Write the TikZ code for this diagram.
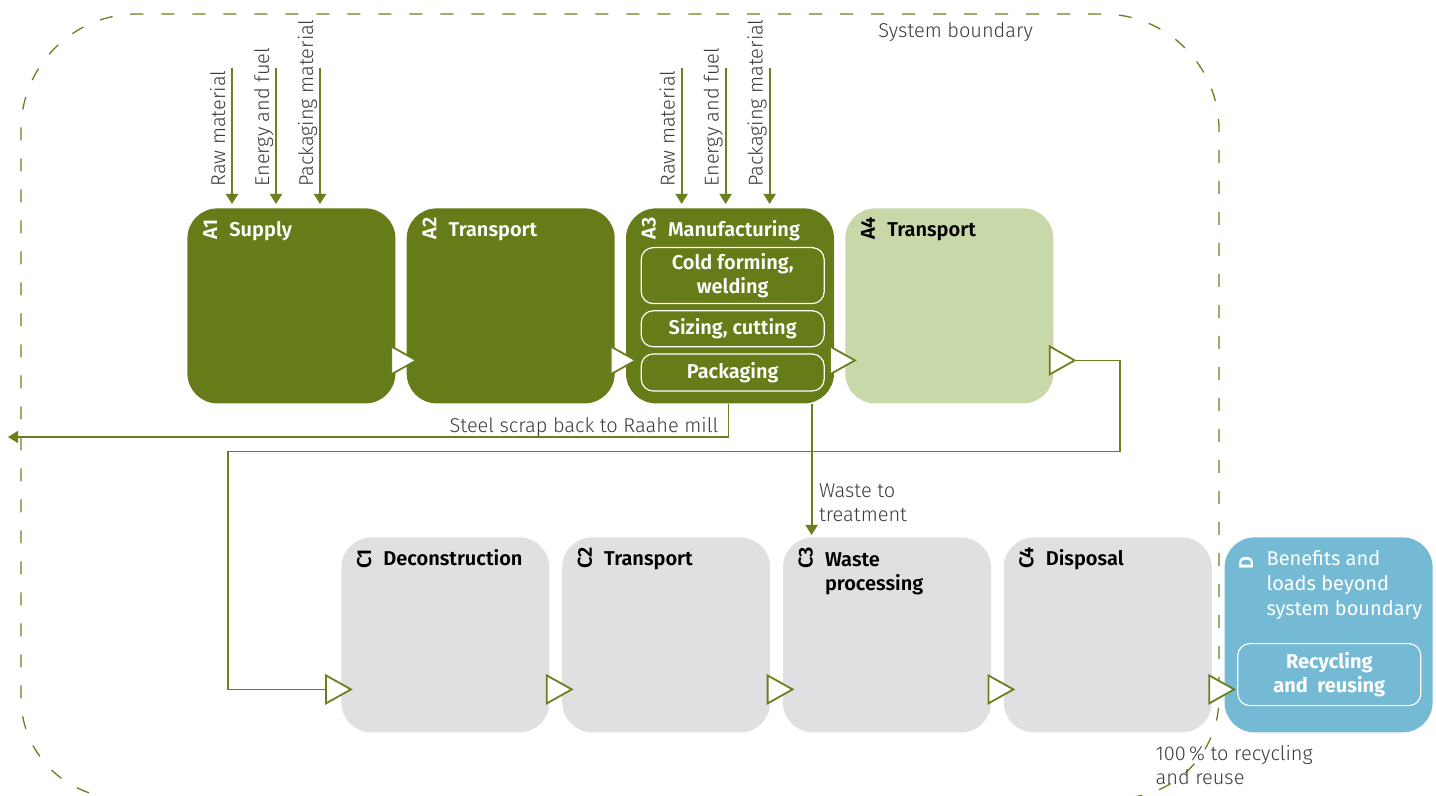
\documentclass[tikz,border=0pt]{standalone}
\usepackage{fontspec}
\setmainfont{Fira Sans}
\newfontfamily\lightfont{Fira Sans Light}
\newfontfamily\semifont{Fira Sans SemiBold}
\usetikzlibrary{positioning,calc,arrows.meta}

\definecolor{darkgreen}{HTML}{667C18}
\definecolor{palegreen}{HTML}{C9D8A8}
\definecolor{palegrey}{HTML}{E0E0E2}
\definecolor{skyblue}{HTML}{74BAD4}
\definecolor{flowgreen}{HTML}{6A801E}
\definecolor{inkgrey}{HTML}{3A3A3A}

\tikzset{
  phase/.style={rounded corners=15pt, minimum width=104pt, minimum height=97.5pt, inner sep=0pt, anchor=north west},
  sub/.style={draw=white, line width=0.6pt, rounded corners=6pt, minimum width=91.5pt, inner sep=0pt,
    anchor=north west, text=white, align=center, font=\semifont\fontsize{10}{12}\selectfont},
  title/.style={anchor=base west, inner sep=0pt, align=left, font=\semifont\fontsize{10}{12.5}\selectfont},
  code/.style={rotate=90, anchor=base west, inner sep=0pt, font=\semifont\fontsize{10}{12}\selectfont},
  note/.style={inner sep=0pt, text=inkgrey, align=left, font=\lightfont\fontsize{10}{12}\selectfont},
  feed/.style={draw=flowgreen, line width=1pt, -{Triangle[width=6pt,length=5pt]}},
  flow/.style={draw=flowgreen, line width=0.8pt},
  tri/.style={draw=flowgreen, fill=white, line width=0.9pt, line join=miter},
  boundary/.style={draw=flowgreen, line width=0.65pt, dash pattern=on 6.5pt off 9pt},
}
\newcommand\opentri[1]{\draw[tri] #1 -- ++(-25,-14) -- ++(0,28) -- cycle;}

\begin{document}
\begin{tikzpicture}[x=0.5pt,y=-0.5pt]
  \useasboundingbox (0,0) rectangle (1436,796);

  % system boundary
  \draw[boundary] (600,14) [rounded corners=58pt] -- (1219,14) -- (1219,500)
    [rounded corners=50pt] -- (1219,798) -- (21,798) -- (21,500)
    [rounded corners=58pt] -- (21,14) -- cycle;
  \node[note, anchor=base west] (sysb) at (878,38) {System boundary};

  % product stage
  \node[phase, fill=darkgreen] (A1) at (187,208) {};
  \node[phase, fill=darkgreen, right=5.25pt of A1] (A2) {};
  \node[phase, fill=darkgreen, right=5.25pt of A2] (A3) {};
  \node[phase, fill=palegreen, right=5.25pt of A3] (A4) {};

  % end of life stage
  \node[phase, fill=palegrey] (C1) at (341,537) {};
  \node[phase, fill=palegrey, right=6pt of C1] (C2) {};
  \node[phase, fill=palegrey, right=6pt of C2] (C3) {};
  \node[phase, fill=palegrey, right=6pt of C3] (C4) {};
  \node[phase, fill=skyblue, right=6pt of C4] (D) {};

  % base of the last line is used, so a second line moves the node down
  \foreach \b/\t/\c/\d in {A1/Supply/white/0, A2/Transport/white/0, A3/Manufacturing/white/0,
      A4/Transport/black/0, C1/Deconstruction/black/0, C2/Transport/black/0,
      C3/{Waste\\processing}/black/25, C4/Disposal/black/0} {
    \node[code, text=\c] (\b code) at ($(\b.north west)+(30,32)$) {\b};
    \node[title, text=\c] (\b title) at ($(\b.north west)+(42,29+\d)$) {\t};
  }
  \node[code, text=white] (Dcode) at ($(D.north west)+(29,33)$) {D};
  \node[title, text=white, font=\fontsize{10}{12.5}\selectfont] (Dtitle) at ($(D.north west)+(42,79)$)
    {Benefits and\\loads beyond\\system boundary};

  % manufacturing steps
  \node[sub, minimum height=28pt] (cold) at ($(A3.north west)+(15,39)$) {Cold forming,\\welding};
  \node[sub, minimum height=18pt, below=3pt of cold] (sizing) {Sizing, cutting};
  \node[sub, minimum height=18.5pt, below=3pt of sizing] (pack) {Packaging};
  \node[sub, minimum height=31pt, font=\bfseries\fontsize{10}{12}\selectfont] (recycle)
    at ($(D.north west)+(13,106)$) {Recycling\\and\ \ reusing};

  % inputs
  \foreach \b/\o in {A1/45, A3/56} {
    \foreach \t [count=\i from 0] in {Raw material, Energy and fuel, Packaging material} {
      \coordinate (\b feed\i) at ($(\b.north west)+(\o+44*\i,-140)$);
      \draw[feed, shorten >=2pt] (\b feed\i) -- (\b feed\i |- \b.north);
      \node[note, rotate=90, anchor=base west] (\b lab\i) at ($(\b.north west)+(\o+44*\i-7,-21)$) {\t};
    }
  }

  % flows out of manufacturing
  \coordinate (scrapend) at (8,437);
  \draw[flow, -{Triangle[width=6pt,length=5pt]}] ($(A3.south west)+(103,0)$) |- (scrapend);
  \node[note, anchor=base east] (scraplab) at ($(A3.south west)+(93,29)$) {Steel scrap back to Raahe mill};
  \draw[feed, shorten >=1pt] ($(A3.south west)+(186,0)$) -- ($(C3.north west)+(29,0)$);
  \node[note, anchor=base west] (wastelab) at ($(A3.south west)+(193,118)$) {Waste to\\treatment};

  % from A4 down to C1
  \coordinate (A4out) at ($(A4.east)+(21,54.5)$);
  \coordinate (C1in) at ($(C1.west)+(8,54.5)$);
  \draw[flow] (A4out) -- ++(45,0) -- ++(0,91) -| ($(C1in)+(-121,0)$) -- (C1in);

  \foreach \b in {A2,A3,A4,C1,C2,C3,C4,D} {
    \opentri{($(\b.west)+(10,54.5)$)}
  }
  \opentri{(A4out)}

  \node[note, anchor=base west] (reclab) at ($(D.south west)+(-69,52)$) {100\,\% to recycling\\and reuse};
\end{tikzpicture}
\end{document}
